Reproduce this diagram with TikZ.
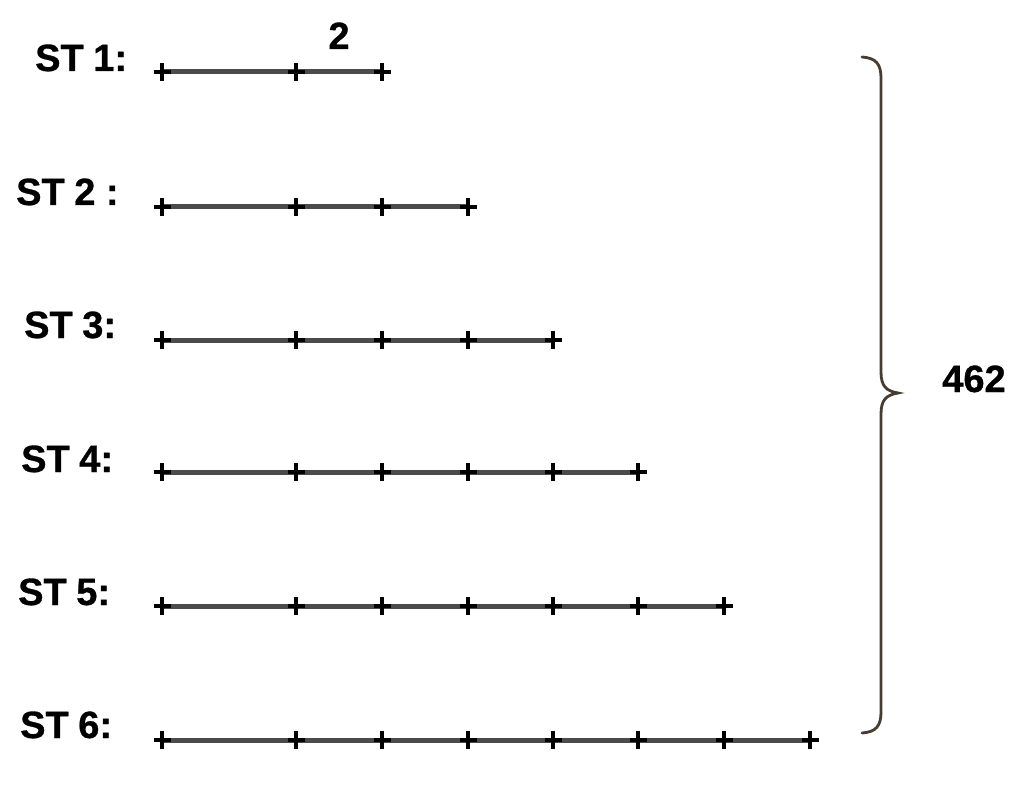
\documentclass[tikz,border=0pt]{standalone}
\usepackage{fontspec}
\setmainfont{Liberation Sans}[FakeBold=0.8]
\begin{document}
\begin{tikzpicture}[x=1pt,y=-1pt,
  lbl/.style={anchor=base west,inner sep=0pt,font=\fontsize{38}{40}\selectfont\bfseries},
  num/.style={anchor=base,inner sep=0pt,font=\fontsize{38}{40}\selectfont\bfseries},
  seg/.style={line width=5pt,draw={rgb,255:red,75;green,75;blue,75}},
  tick/.style={line width=3.4pt,draw=black},
  bracestyle/.style={line width=2.8pt,draw={rgb,255:red,70;green,60;blue,50},line cap=round}]
\useasboundingbox (0,0) rectangle (1024,791);
\fill[white] (0,0) rectangle (1024,791);
% tick x positions
\def\tx{{162,296,382,468,553,638,724,810}}
\def\ry{{72,207,340,472,606,740}}
% labels
\node[lbl] (l1) at (35,71) {ST\hspace{0.25em}1:};
\node[lbl] (l2) at (16,205) {ST\hspace{0.25em}2 :};
\node[lbl] (l3) at (24,338) {ST\hspace{0.25em}3:};
\node[lbl] (l4) at (21,472) {ST\hspace{0.25em}4:};
\node[lbl] (l5) at (18,605) {ST\hspace{0.25em}5:};
\node[lbl] (l6) at (20,738) {ST\hspace{0.25em}6:};
\node[num] (two) at (339,49) {2};
% rows
\foreach \r in {1,...,6}{
  \pgfmathsetmacro{\yy}{\ry[\r-1]}
  \pgfmathtruncatemacro{\last}{\r+2}
  \foreach \k in {1,...,\last}{
    \pgfmathsetmacro{\xx}{\tx[\k-1]}
    \coordinate (r\r t\k) at (\xx,\yy);
  }
  \draw[seg] (r\r t1) -- (r\r t\last);
  \foreach \k in {1,...,\last}{
    \draw[tick] ([xshift=-8.5pt]r\r t\k) -- ([xshift=8.5pt]r\r t\k);
    \draw[tick] ([yshift=-9pt]r\r t\k) -- ([yshift=9pt]r\r t\k);
  }
}
% brace
\coordinate (btop) at (862,57);
\coordinate (btip) at (898,393);
\coordinate (bbot) at (862,733);
\draw[bracestyle] (btop) .. controls (876,58) and (881,64) .. (881,78)
  -- (881,372) .. controls (881,386) and (886,391) .. (btip)
  .. controls (886,395) and (881,400) .. (881,414)
  -- (881,712) .. controls (881,726) and (876,732) .. (bbot);
\node[num] (total) at (974,392) {462};
\end{tikzpicture}
\end{document}
